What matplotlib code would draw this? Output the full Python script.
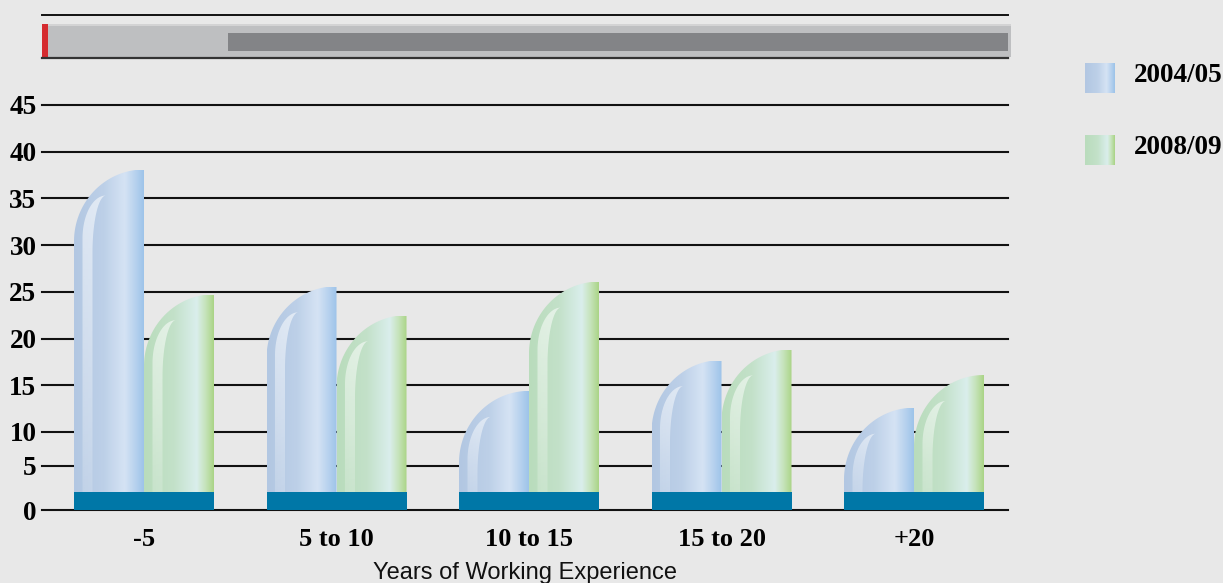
import numpy as np
import matplotlib
matplotlib.use("Agg")
import matplotlib.pyplot as plt
from matplotlib.patches import Polygon, Rectangle
from matplotlib.colors import LinearSegmentedColormap

# data
categories = ['-5', '5 to 10', '10 to 15', '15 to 20', '+20']
y2004 = [38.1, 25.6, 14.4, 17.7, 12.6]
y2008 = [24.75, 22.5, 26.1, 18.85, 16.1]
series = ['2004/05', '2008/09']
yticks = [0, 5, 10, 15, 20, 25, 30, 35, 40, 45]

BG = '#e8e8e8'
TEAL = '#0077a7'
blue_stops = [(0, '#b2c7e2'), (0.42, '#bdd0e8'), (0.72, '#d5e3f4'), (0.88, '#b6d1ee'), (1, '#9cc3e9')]
green_stops = [(0, '#b9dcbc'), (0.42, '#c3e1c9'), (0.75, '#daeeec'), (0.88, '#c5e3b9'), (1, '#a9d384')]

# odd y axis of the original: bottom two steps are squeezed
_vals = [-10, 0, 5, 10, 60]
_pix = [-88, 0, 44, 78, 78 + 50 * 9.34]
def fwd(v):
    return np.interp(v, _vals, _pix)
def inv(p):
    return np.interp(p, _pix, _vals)

W = 1223
H = 583
fig = plt.figure(figsize=(W / 100, H / 100), dpi=100, facecolor=BG)
ax = fig.add_axes([42 / W, 73 / H, (1008 - 42) / W, 405 / H])
ax.set_facecolor('none')
ax.set_yscale('function', functions=(fwd, inv))

xlim = (-102 / 192.5, 864 / 192.5)
ylim = (0, 45)
px_x = 192.5          # pixels per x unit
bw = 70 / px_x        # bar width
ry = 72               # curve height in pixels
band_h = 2.0


def gradient(stops, n=128):
    cmap = LinearSegmentedColormap.from_list('g', stops)
    return cmap(np.linspace(0, 1, n))[np.newaxis, :, :]


def draw_bar(xl, v, stops):
    xr = xl + bw
    T = fwd(v)
    t = np.linspace(0, np.pi / 2, 60)
    cx = xr - bw * np.cos(t)
    cy = inv(T - ry + ry * np.sin(t))
    pts = [(xl, 0)] + list(zip(cx, cy)) + [(xr, 0)]
    poly = Polygon(pts, closed=True, fc='none', lw=0, zorder=2)
    ax.add_patch(poly)
    im = ax.imshow(gradient(stops), extent=[xl, xr, 0, v], aspect='auto',
                   interpolation='bilinear', zorder=2)
    im.set_clip_path(poly)

    # glossy highlight strip
    tipx = 32
    bottom = fwd(band_h)
    t = np.linspace(np.pi, np.pi / 2, 40)
    ox = tipx + 23.5 * np.cos(t)
    oy = T - (69 - 43 * np.sin(t))
    t2 = np.linspace(np.pi / 2, np.pi, 40)
    ix = tipx + 13.5 * np.cos(t2)
    iy = T - (83 - 57 * np.sin(t2))
    xs = [8.5] + list(ox) + list(ix) + [18.5]
    ys = [bottom] + list(oy) + list(iy) + [bottom]
    ys = np.maximum(ys, bottom)
    hp = Polygon(list(zip(xl + np.array(xs) / px_x, inv(np.array(ys)))),
                 closed=True, fc='none', lw=0, zorder=3)
    ax.add_patch(hp)
    rgba = np.ones((64, 1, 4))
    rgba[:, 0, 3] = np.linspace(0.6, 0.15, 64)
    hi = ax.imshow(rgba, extent=[xl + 8 / px_x, xl + 33 / px_x, 0, v],
                   aspect='auto', interpolation='bilinear', zorder=3)
    hi.set_clip_path(hp)


x = np.arange(len(categories))
for i in range(len(categories)):
    draw_bar(x[i] - bw, y2004[i], blue_stops)
    draw_bar(x[i], y2008[i], green_stops)
ax.bar(x, [band_h] * len(x), width=2 * bw, color=TEAL, zorder=4)

ax.set_xlim(xlim)
ax.set_ylim(ylim)
ax.set_yticks(yticks)
ax.set_xticks(x)
ax.set_xticklabels(categories)
ax.yaxis.grid(True, color='#111111', lw=1.5)
ax.set_axisbelow(True)
for ln in ax.get_ygridlines():
    ln.set_clip_on(False)
for s in ax.spines.values():
    s.set_visible(False)
ax.tick_params(axis='y', length=0, pad=4)
ax.tick_params(axis='x', length=0, pad=13)
for lab in ax.get_yticklabels():
    lab.set_fontfamily('Liberation Serif')
    lab.set_fontweight('bold')
    lab.set_fontsize(19.5)
for lab in ax.get_xticklabels():
    lab.set_fontfamily('Liberation Serif')
    lab.set_fontweight('bold')
    lab.set_fontsize(19)
ax.set_xlabel('Years of Working Experience', fontfamily='Liberation Sans',
              fontsize=17, labelpad=8, color='#111111')

# header band and legend drawn in pixel coordinates
hdr = fig.add_axes([0, 0, 1, 1])
hdr.axis('off')
hdr.add_patch(Rectangle((42, 24), 969, 33, color='#bebfc1', lw=0))
hdr.add_patch(Rectangle((42, 24), 969, 2, color='#d3d3d4', lw=0))
hdr.add_patch(Rectangle((228, 33), 780, 18, color='#838487', lw=0))
hdr.add_patch(Rectangle((42, 24), 6, 33, color='#d52b2f', lw=0))
hdr.plot([42, 1008], [14.5, 14.5], color='#111111', lw=1.4)
hdr.plot([42, 1008], [57.5, 57.5], color='#333333', lw=1.6)

for k, (name, stops) in enumerate(zip(series, [blue_stops, green_stops])):
    y0 = 63 + k * 72
    hdr.imshow(gradient(stops), extent=[1085, 1115, y0 + 30, y0], aspect='auto',
               interpolation='bilinear')
    hdr.text(1134, y0 + 12, name, fontfamily='Liberation Serif', fontweight='bold',
             fontsize=19.5, va='center', ha='left')
hdr.set_xlim(0, W)
hdr.set_ylim(H, 0)

fig.savefig('out.png', dpi=100, facecolor=BG)
